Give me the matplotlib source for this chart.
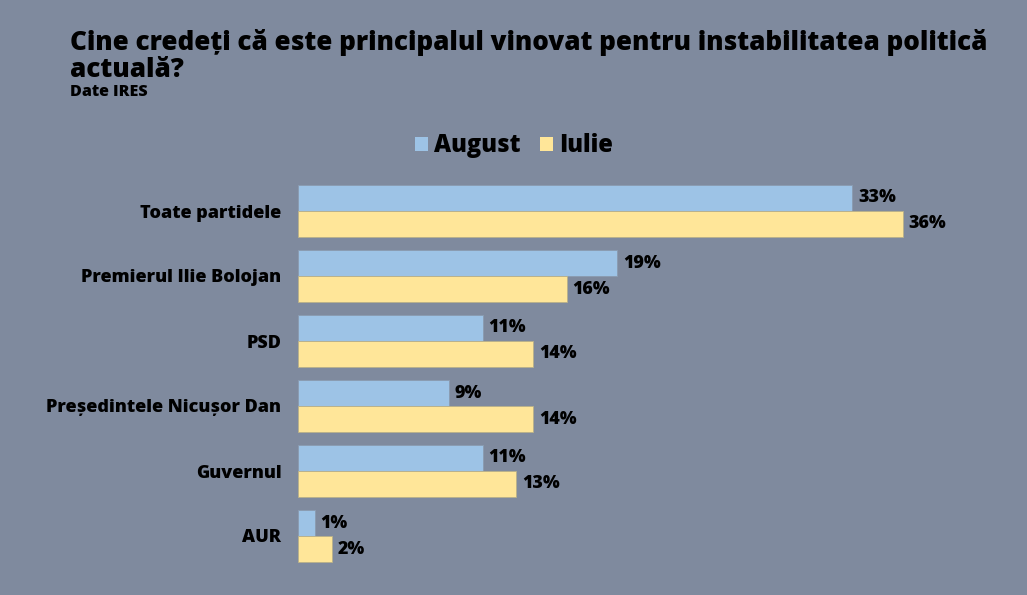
import numpy as np
import matplotlib.pyplot as plt

categories = ['Toate partidele', 'Premierul Ilie Bolojan', 'PSD',
              'Președintele Nicușor Dan', 'Guvernul', 'AUR']
august = [33, 19, 11, 9, 11, 1]
iulie = [36, 16, 14, 14, 13, 2]
series_names = ['August', 'Iulie']

BG = '#7f8a9e'
BLUE = '#9dc3e6'
YELLOW = '#ffe699'
FONT = 'Open Sans'
WT = 800

fig = plt.figure(figsize=(10.27, 5.95), dpi=100, facecolor=BG)
W, H = 1027, 595
ax = fig.add_axes([298 / W, 1 - 568.5 / H, (970 - 298) / W, 390 / H])
ax.set_facecolor(BG)

y = np.arange(len(categories))
h = 0.4
b1 = ax.barh(y - h / 2, august, height=h, color=BLUE, edgecolor='#8a9bb0', linewidth=0.6)
b2 = ax.barh(y + h / 2, iulie, height=h, color=YELLOW, edgecolor='#b8b08a', linewidth=0.6)

for bars, vals in ((b1, august), (b2, iulie)):
    for bar, v in zip(bars, vals):
        ax.annotate(f'{v}%', (bar.get_width(), bar.get_y() + bar.get_height() / 2),
                    xytext=(4, 0), textcoords='offset points', va='center', ha='left',
                    fontsize=12.8, fontweight=WT, family=FONT, color='black')

ax.set_xlim(0, 40)
ax.set_ylim(len(categories) - 0.5, -0.5)
ax.set_yticks(y)
ax.set_yticklabels(categories, fontsize=13, fontweight=WT, family=FONT)
ax.tick_params(axis='y', length=0, pad=12)
ax.set_xticks([])
for s in ax.spines.values():
    s.set_visible(False)

fig.text(70 / W, 1 - 29 / H,
         'Cine credeți că este principalul vinovat pentru instabilitatea politică\nactuală?',
         fontsize=18.7, fontweight=WT, family=FONT, va='top', ha='left',
         linespacing=1.05)
fig.text(70 / W, 1 - 92 / H, 'Date IRES', fontsize=11.5, fontweight=WT,
         family=FONT, va='center', ha='left')

# legend
leg = fig.legend([b1, b2], series_names, loc='center', bbox_to_anchor=(514 / W, 1 - 146 / H),
                 ncol=2, frameon=False, handlelength=0.55, handleheight=0.55,
                 handletextpad=0.25, columnspacing=0.8,
                 prop={'family': FONT, 'weight': WT, 'size': 17})
for p in leg.get_patches():
    p.set_edgecolor('none')

fig.savefig('out.png', dpi=100, facecolor=BG)
